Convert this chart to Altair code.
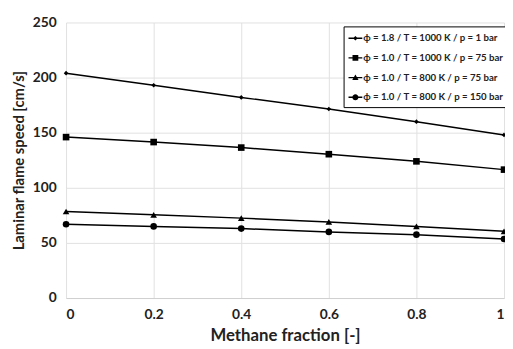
import altair as alt
import pandas as pd

fractions = [0, 0.2, 0.4, 0.6, 0.8, 1.0]
series_names = [
    "ϕ = 1.8 / T = 1000 K / p = 1 bar",
    "ϕ = 1.0 / T = 1000 K / p = 75 bar",
    "ϕ = 1.0 / T = 800 K / p = 75 bar",
    "ϕ = 1.0 / T = 800 K / p = 150 bar",
]
s1 = [204, 193, 182, 171.5, 160, 148]
s2 = [146, 141.5, 136.5, 130.5, 124, 116.5]
s3 = [78.5, 75.5, 72.5, 69, 65, 60.5]
s4 = [67, 65, 63, 60, 57.5, 53.5]

rows = []
for name, vals in zip(series_names, [s1, s2, s3, s4]):
    for f, v in zip(fractions, vals):
        rows.append({"frac": f, "speed": v, "series": name, "legend": name})
df = pd.DataFrame(rows)

FONT = "Lato"
x = alt.X("frac:Q", title="Methane fraction [-]",
          scale=alt.Scale(domain=[0, 1], nice=False),
          axis=alt.Axis(values=fractions,
                        labelExpr="datum.value == 0 ? '0' : datum.value == 1 ? '1' : format(datum.value, '.1f')"))
y = alt.Y("speed:Q", title="Laminar flame speed [cm/s]",
          scale=alt.Scale(domain=[0, 250], nice=False),
          axis=alt.Axis(values=[0, 50, 100, 150, 200, 250], titleFontSize=15, titlePadding=6))

base = alt.Chart(df)
lines = base.mark_line(color="black", strokeWidth=1.5).encode(
    x=x, y=y, detail="series:N")
points = base.mark_point(filled=True, color="black", opacity=1).encode(
    x=x, y=y,
    shape=alt.Shape("series:N", scale=alt.Scale(domain=series_names,
                    range=["diamond", "square", "triangle-up", "circle"]),
                    legend=None),
    size=alt.condition("datum.series == '" + series_names[0] + "'", alt.value(22), alt.value(45)),
)
BAR = "M-1,-0.1H1V0.1H-1Z"
leg_paths = [
    BAR + "M-0.34,0L0,-0.34L0.34,0L0,0.34Z",
    BAR + "M-0.42,-0.42H0.42V0.42H-0.42Z",
    BAR + "M-0.46,0.36L0,-0.46L0.46,0.36Z",
    BAR + "M0.44,0A0.44,0.44,0,1,1,-0.44,0A0.44,0.44,0,1,1,0.44,0Z",
]
legend_layer = base.transform_filter("datum.speed < 0").mark_point(
    filled=True, fill="black", strokeWidth=0).encode(
    x=x, y=y,
    shape=alt.Shape("legend:N", scale=alt.Scale(domain=series_names, range=leg_paths),
                    legend=alt.Legend(
                        title=None, orient="none", legendX=282, legendY=4,
                        fillColor="white", strokeColor="black", padding=5,
                        symbolSize=196, symbolOpacity=1, symbolFillColor="black",
                        symbolStrokeWidth=0,
                        labelFont=FONT, labelFontSize=9.8, labelFontWeight="bold",
                        labelColor="#222", labelOffset=1, rowPadding=8,
                        symbolOffset=0)),
)

chart = alt.layer(lines, points, legend_layer).resolve_scale(shape="independent").properties(
    width=445, height=280,
    autosize=alt.AutoSizeParams(type="none"),
    padding={"left": 59, "top": 12, "right": 1, "bottom": 44},
).configure_view(stroke=None).configure_axis(
    grid=True, gridColor="#e0e0e0", domainColor="#d0d0d0", ticks=False,
    labelFont=FONT, labelFontSize=14, labelFontWeight="bold", labelColor="#222",
    titleFont=FONT, titleFontSize=17, titleFontWeight="bold", titleColor="#222",
    labelPadding=10,
).configure_axisY(domain=False).configure_axisX(titlePadding=6)

chart.save("out.html", embed_options={"renderer": "svg", "actions": False})
